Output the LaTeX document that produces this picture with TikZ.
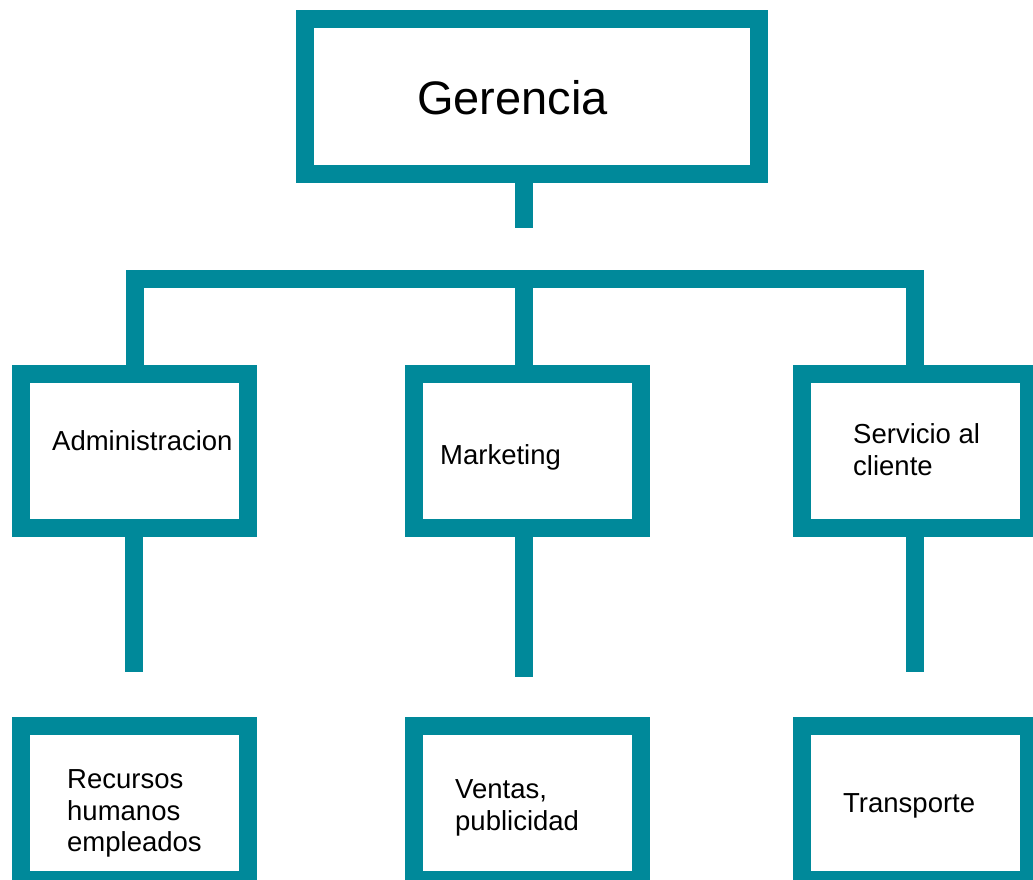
\documentclass[tikz,border=0pt]{standalone}
\usepackage{fontspec}
\setmainfont{Liberation Sans}
\usetikzlibrary{positioning,calc}
\definecolor{TealLine}{HTML}{00899A}

\begin{document}
\begin{tikzpicture}[x=1pt, y=-1pt,
  box/.style={rectangle, draw=TealLine, line width=18pt, fill=white, outer sep=0pt, minimum width=227pt, minimum height=154pt},
  topbox/.style={box, minimum width=454pt, minimum height=155pt},
  txt/.style={anchor=base west, inner sep=0pt, align=left, font=\fontsize{27.5}{31.5}\selectfont},
  bigtxt/.style={txt, font=\fontsize{47}{54}\selectfont},
  link/.style={draw=TealLine, line width=18pt}
]
  \useasboundingbox (0,0) rectangle (1033,880);
  \clip (0,0) rectangle (1033,880);

  % Connectors
  \coordinate (gstub) at (524,228);
  \coordinate (bar) at (0,279);
  \coordinate (astub) at (134,672);
  \coordinate (mstub) at (524,677);
  \coordinate (sstub) at (914.5,672);

  % Boxes
  \node[topbox] (gerencia) at (532,96.5) {};
  \node[box] (admin) at (134.5,451) {};
  \node[box] (mkt) at (527.5,451) {};
  \node[box] (serv) at (915,451) {};
  \node[box] (rrhh) at (134.5,802.5) {};
  \node[box] (ventas) at (527.5,802.5) {};
  \node[box] (transp) at (915,802.5) {};

  \draw[link] (gstub |- gerencia.south) -- (gstub);
  \draw[link] (admin.north) -- (admin.north |- bar) -- (serv.north |- bar) -- (serv.north);
  \draw[link] (gstub |- bar) -- (gstub |- mkt.north);
  \draw[link] (astub |- admin.south) -- (astub);
  \draw[link] (mstub |- mkt.south) -- (mstub);
  \draw[link] (sstub |- serv.south) -- (sstub);

  % Labels (base = last line)
  \node[bigtxt] at ($(gerencia.north west)+(112,96)$) {Gerencia};
  \node[txt] at ($(admin.north west)+(31,76)$) {Administracion};
  \node[txt] at ($(mkt.north west)+(26,90)$) {Marketing};
  \node[txt] at ($(serv.north west)+(51.5,101)$) {Servicio al\\cliente};
  \node[txt] at ($(rrhh.north west)+(46,126)$) {Recursos\\humanos\\empleados};
  \node[txt] at ($(ventas.north west)+(41,104.5)$) {Ventas,\\publicidad};
  \node[txt] at ($(transp.north west)+(41.5,87)$) {Transporte};

\end{tikzpicture}
\end{document}
